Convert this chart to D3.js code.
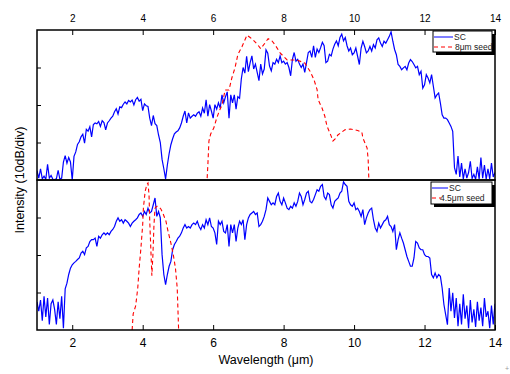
<!DOCTYPE html>
<html>
<head>
<meta charset="utf-8">
<script src="https://cdn.jsdelivr.net/npm/d3@7"></script>
<style>
  body { margin: 0; background: #fff; }
  svg { display: block; font-family: 'Liberation Sans', Arial, sans-serif; }
</style>
</head>
<body>
<svg width="510" height="374"></svg>
<script>
'use strict';

// wavelength grid of the SC spectra (um), 0.05 um apart
var lambdaStart = 1.0;
var lambdaStep = 0.05;

// top panel: SC pumped by the 8 um seed (dB above panel floor)
var scTop = [
    2.5, 0.5, 3.0, 0.3, 1.0, 0.2, 4.2, 0.5, 1.2, 0.2, 0.1, 0.3, 2.6, 0.2, 0.5, 4.8, 6.5, 4.5, 6.0, 4.8,
    0.0, 6.3, 7.5, 9.5, 10.2, 11.5, 12.2, 9.8, 13.5, 13.0, 14.2, 11.5, 14.8, 15.2, 15.0, 15.6, 14.3, 15.8, 15.3, 13.4,
    15.2, 15.8, 16.5, 17.0, 18.2, 19.0, 17.6, 19.5, 19.3, 20.2, 20.8, 20.3, 21.2, 20.8, 21.3, 20.0, 21.4, 22.0, 21.0, 21.5,
    18.5, 20.3, 19.8, 19.6, 16.5, 14.5, 17.2, 15.0, 14.5, 12.0, 10.0, 5.5, 3.0, 0.3, 4.0, 7.0, 9.4, 11.0, 12.3, 12.8,
    13.1, 13.9, 15.2, 17.0, 18.4, 15.2, 17.9, 16.5, 17.0, 17.4, 17.0, 17.8, 18.2, 17.0, 19.2, 17.8, 21.4, 17.0, 20.1, 18.4,
    16.5, 20.1, 18.9, 20.6, 19.2, 22.7, 20.6, 22.2, 23.5, 16.5, 22.7, 20.6, 22.7, 18.9, 22.2, 21.8, 27.0, 30.0, 28.5, 33.0,
    28.9, 31.3, 33.1, 29.6, 30.9, 28.7, 26.5, 30.9, 28.3, 29.6, 34.7, 33.8, 30.4, 29.1, 31.3, 30.9, 32.2, 31.3, 33.1, 31.3,
    31.7, 30.9, 31.3, 30.0, 27.8, 32.2, 34.0, 31.7, 32.2, 30.9, 30.0, 30.9, 28.7, 31.3, 34.0, 34.4, 32.7, 35.8, 32.7, 34.9,
    34.0, 35.3, 36.7, 35.8, 31.3, 31.7, 33.5, 33.1, 34.9, 36.2, 37.1, 35.8, 38.0, 38.9, 37.1, 38.0, 35.8, 34.4, 35.2, 33.4,
    33.9, 35.2, 33.0, 30.8, 35.2, 37.0, 35.6, 33.9, 34.4, 35.6, 34.4, 36.1, 35.2, 37.4, 37.9, 36.5, 35.6, 37.0, 36.5, 37.4,
    38.3, 39.5, 37.0, 34.8, 33.4, 30.8, 30.3, 29.4, 29.9, 30.3, 29.4, 31.2, 32.1, 31.6, 30.8, 29.9, 30.3, 28.1, 29.0, 24.5,
    25.4, 28.1, 27.2, 25.9, 28.1, 25.0, 21.9, 22.7, 23.2, 20.5, 17.4, 16.5, 16.5, 16.1, 15.2, 14.3, 13.0, 3.3, 1.5, 6.4,
    0.8, 4.5, 0.3, 3.0, 0.5, 2.0, 5.0, 0.4, 1.5, 0.2, 3.5, 0.3, 6.0, 0.5, 4.0, 0.2, 3.0, 0.3, 4.5, 0.8,
    2.0
];

// bottom panel: SC pumped by the 4.5 um seed
var scBottom = [
    7.5, 5.0, 8.0, 2.5, 9.0, 3.5, 8.5, 1.5, 7.0, 8.0, 5.5, 1.5, 7.5, 3.0, 9.0, 0.5, 11.0, 12.5, 14.8, 16.5,
    17.4, 17.9, 18.3, 18.8, 19.2, 20.5, 21.0, 20.1, 21.9, 22.3, 23.6, 24.1, 24.1, 24.5, 22.3, 25.0, 24.5, 25.4, 25.9, 25.4,
    25.9, 25.4, 26.3, 26.8, 27.6, 29.0, 29.9, 29.0, 29.4, 28.5, 29.4, 29.0, 28.5, 27.6, 28.5, 29.0, 29.4, 29.9, 30.8, 31.2,
    30.3, 31.6, 30.8, 32.5, 31.2, 31.6, 33.4, 35.2, 30.3, 31.6, 29.9, 20.1, 14.8, 12.1, 14.8, 17.0, 18.3, 21.4, 22.8, 23.6,
    24.5, 25.0, 25.9, 27.2, 28.1, 27.2, 27.6, 27.2, 28.1, 28.5, 28.1, 29.0, 27.6, 26.8, 28.1, 27.2, 29.4, 28.1, 29.9, 27.6,
    27.2, 25.9, 22.8, 29.0, 28.1, 29.0, 26.3, 25.9, 28.1, 22.3, 28.1, 25.9, 28.1, 23.6, 27.2, 29.0, 28.1, 29.4, 24.1, 28.1,
    29.9, 30.8, 31.2, 31.6, 30.8, 31.2, 27.6, 28.1, 29.0, 30.3, 32.1, 35.2, 34.3, 33.4, 33.9, 33.4, 35.6, 36.5, 34.3, 33.4,
    35.2, 33.9, 32.5, 32.1, 33.0, 32.5, 33.9, 33.0, 34.3, 36.5, 35.6, 33.4, 34.8, 36.5, 37.0, 34.3, 33.9, 34.8, 36.1, 37.4,
    37.0, 38.3, 38.8, 35.6, 34.8, 36.5, 36.1, 33.4, 32.5, 34.3, 34.8, 35.2, 36.5, 37.0, 39.5, 38.8, 38.3, 34.3, 33.4, 33.0,
    33.9, 32.1, 32.5, 31.6, 30.3, 32.1, 28.1, 29.9, 31.2, 32.1, 32.5, 29.4, 27.2, 26.3, 28.5, 27.2, 28.1, 29.0, 29.4, 30.3,
    28.1, 27.6, 26.3, 28.1, 21.4, 24.1, 25.9, 24.5, 23.2, 21.4, 19.6, 18.3, 17.0, 17.0, 19.2, 23.6, 23.2, 21.9, 21.4, 21.4,
    20.1, 19.6, 19.6, 19.2, 14.8, 13.9, 15.2, 13.9, 14.8, 14.3, 11.2, 6.8, 4.1, 1.4, 11.2, 5.0, 9.9, 3.2, 8.5, 1.0,
    7.0, 1.5, 9.5, 3.0, 6.5, 0.5, 8.0, 2.0, 5.5, 0.8, 7.5, 2.5, 6.0, 1.0, 8.5, 3.5, 5.0, 0.5, 6.5, 1.5,
    7.0
];

// seed spectra, [wavelength um, dB]
var seed8 = [
    [5.83, 0.5], [5.85, 4.0], [5.88, 10.4], [5.93, 12.3], [6.02, 13.9], [6.10, 16.5], [6.18, 18.5], [6.25, 20.0],
    [6.34, 24.0], [6.45, 24.0], [6.53, 27.2], [6.62, 29.9], [6.70, 33.4], [6.82, 35.6], [6.96, 38.6], [7.05, 38.0],
    [7.13, 37.4], [7.27, 36.0], [7.35, 35.0], [7.47, 36.5], [7.56, 37.7], [7.66, 37.2], [7.76, 36.0], [7.90, 33.9],
    [8.10, 32.0], [8.38, 32.0], [8.60, 31.2], [8.75, 29.0], [8.86, 26.8], [8.95, 24.1], [8.98, 21.4], [9.09, 19.2],
    [9.17, 17.0], [9.23, 14.4], [9.35, 11.7], [9.40, 10.4], [9.47, 11.0], [9.54, 12.0], [9.74, 13.4], [9.90, 13.6],
    [10.10, 13.2], [10.22, 12.8], [10.25, 11.2], [10.37, 8.5], [10.40, 5.4], [10.42, 0.0]
];
var seed45 = [
    [3.70, 0.0], [3.73, 4.3], [3.80, 6.4], [3.86, 11.2], [3.90, 16.5], [3.95, 21.9], [4.00, 28.1], [4.02, 32.5],
    [4.07, 37.0], [4.12, 38.8], [4.15, 39.2], [4.18, 36.0], [4.20, 29.0], [4.23, 21.9], [4.26, 14.5], [4.29, 20.0],
    [4.32, 28.0], [4.35, 32.5], [4.40, 33.0], [4.46, 32.9], [4.52, 32.2], [4.58, 31.0], [4.66, 29.0], [4.72, 26.3],
    [4.80, 23.2], [4.87, 20.0], [4.93, 16.5], [4.98, 11.2], [5.02, 0.0]
];

var xTicks = [2, 4, 6, 8, 10, 12, 14];
var yTicks = [10, 20, 30];
var legendTop = ['SC', '8\u03bcm seed'];
var legendBottom = ['SC', '4.5\u03bcm seed'];

var svg = d3.select('svg');

var x = d3.scaleLinear().domain([1, 14]).range([37, 495]);
var yTop = d3.scaleLinear().domain([0, 40]).range([180, 30]);
var yBot = d3.scaleLinear().domain([0, 40]).range([330, 180]);

function toPairs(arr) {
    return arr.map(function (v, i) {
        return [lambdaStart + i * lambdaStep, v];
    });
}

// clip regions for the two panels
var defs = svg.append('defs');
defs.append('clipPath').attr('id', 'clipTop')
    .append('rect').attr('x', x(1)).attr('y', yTop(40))
    .attr('width', x(14) - x(1)).attr('height', yTop(0) - yTop(40));
defs.append('clipPath').attr('id', 'clipBot')
    .append('rect').attr('x', x(1)).attr('y', yBot(40))
    .attr('width', x(14) - x(1)).attr('height', yBot(0) - yBot(40));

function drawPanel(y, clipId, sc, seed) {
    var line = d3.line()
        .x(function (d) { return x(d[0]); })
        .y(function (d) { return y(d[1]); });
    var g = svg.append('g').attr('clip-path', 'url(#' + clipId + ')');
    g.append('path')
        .attr('d', line(toPairs(sc)))
        .attr('fill', 'none')
        .attr('stroke', '#0000ff')
        .attr('stroke-width', 1.2);
    g.append('path')
        .attr('d', line(seed))
        .attr('fill', 'none')
        .attr('stroke', '#ff0000')
        .attr('stroke-width', 1.1)
        .attr('stroke-dasharray', '4,3');
}

drawPanel(yTop, 'clipTop', scTop, seed8);
drawPanel(yBot, 'clipBot', scBottom, seed45);

// 坐标轴
var topAxis = svg.append('g')
    .attr('transform', 'translate(0,' + yTop(40) + ')')
    .call(d3.axisTop(x).tickValues(xTicks).tickSizeInner(-5).tickSizeOuter(0).tickPadding(8));
var botAxis = svg.append('g')
    .attr('transform', 'translate(0,' + yBot(0) + ')')
    .call(d3.axisBottom(x).tickValues(xTicks).tickSizeInner(-5).tickSizeOuter(0).tickPadding(8));
[yTop, yBot].forEach(function (y) {
    svg.append('g')
        .attr('class', 'yaxis')
        .attr('transform', 'translate(' + x(1) + ',0)')
        .call(d3.axisLeft(y).tickValues(yTicks).tickSizeInner(-4).tickSizeOuter(0).tickFormat(''));
});
svg.selectAll('.domain').remove();
svg.selectAll('.tick line').attr('stroke', '#000').attr('stroke-width', 1);
topAxis.selectAll('text').attr('font-size', 10).attr('fill', '#000');
botAxis.selectAll('text').attr('font-size', 12).attr('fill', '#000');

// panel frames
[yTop, yBot].forEach(function (y) {
    svg.append('rect')
        .attr('x', x(1)).attr('y', y(40))
        .attr('width', x(14) - x(1)).attr('height', y(0) - y(40))
        .attr('fill', 'none')
        .attr('stroke', '#000')
        .attr('stroke-width', 1.5);
});

// 图例
function drawLegend(x0, y0, w, h, labels, textX, dashLen) {
    var g = svg.append('g');
    g.append('rect').attr('x', x0 + 3).attr('y', y0 + 3).attr('width', w).attr('height', h).attr('fill', '#000');
    g.append('rect').attr('x', x0).attr('y', y0).attr('width', w).attr('height', h)
        .attr('fill', '#fff').attr('stroke', '#000').attr('stroke-width', 1);
    g.append('line')
        .attr('x1', x0 + 1).attr('x2', textX[0] - 1)
        .attr('y1', y0 + 6).attr('y2', y0 + 6)
        .attr('stroke', '#0000ff').attr('stroke-width', 1);
    g.append('line')
        .attr('x1', x0 + 1).attr('x2', x0 + 1 + dashLen)
        .attr('y1', y0 + 16).attr('y2', y0 + 16)
        .attr('stroke', '#ff0000').attr('stroke-width', 1.1)
        .attr('stroke-dasharray', '4,3');
    g.selectAll('text')
        .data(labels)
        .enter()
        .append('text')
        .text(function (d) { return d; })
        .attr('x', function (d, i) { return textX[i]; })
        .attr('y', function (d, i) { return y0 + 9 + i * 10; })
        .attr('font-size', 8.5)
        .attr('fill', '#222');
}
drawLegend(433, 31, 59, 21, legendTop, [454, 455], 20);
drawLegend(431, 182, 61, 22, legendBottom, [449, 440], 9);

// axis titles
svg.append('text')
    .text('Wavelength (\u03bcm)')
    .attr('x', (x(1) + x(14)) / 2)
    .attr('y', 364)
    .attr('text-anchor', 'middle')
    .attr('font-size', 12.5);
svg.append('text')
    .text('Intensity (10dB/div)')
    .attr('transform', 'translate(24,' + yBot(40) + ') rotate(-90)')
    .attr('text-anchor', 'middle')
    .attr('font-size', 12.5);

svg.append('text')
    .text('+')
    .attr('x', 505).attr('y', 371)
    .attr('font-size', 7)
    .attr('fill', '#999');
</script>
</body>
</html>
